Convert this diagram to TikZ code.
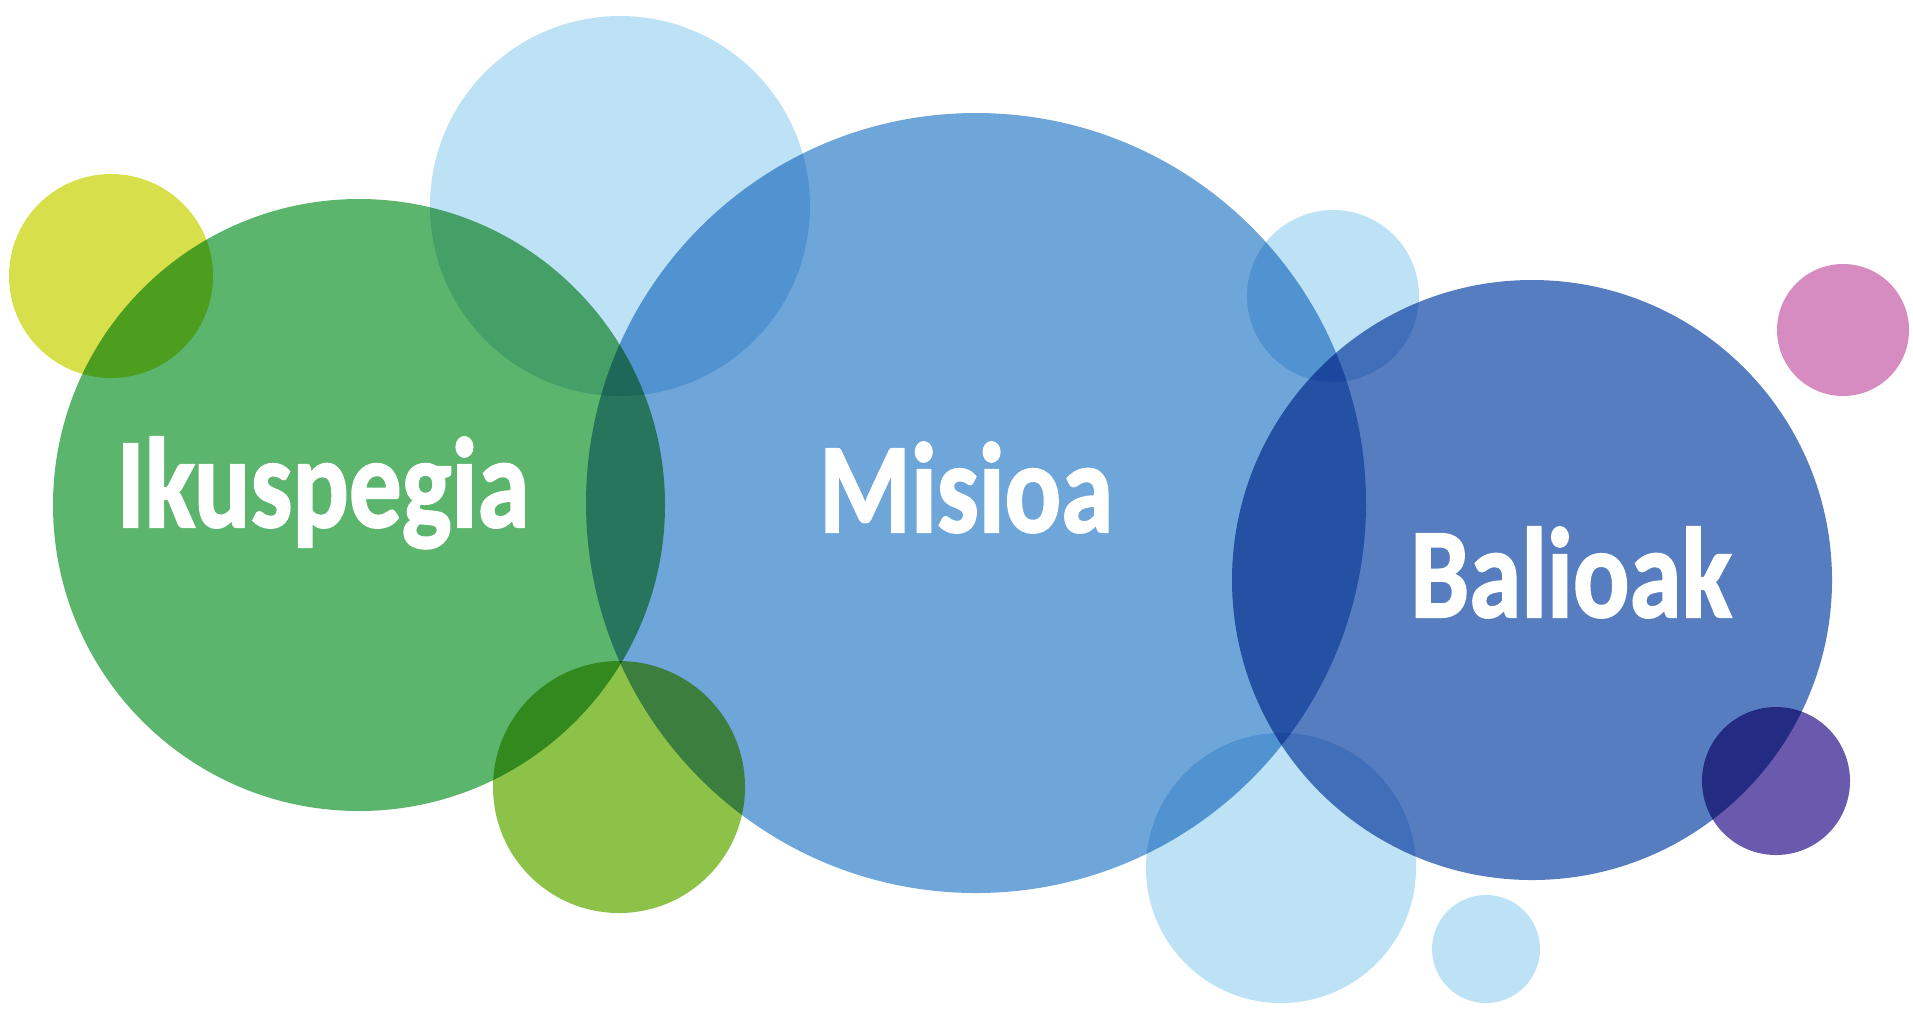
\documentclass[tikz,border=0pt]{standalone}
\usepackage{fontspec}
\newfontfamily\bubfont{Carlito Bold}[FakeBold=1.6]
\definecolor{bubyellow}{RGB}{215,224,74}
\definecolor{bubgreen}{RGB}{92,181,108}
\definecolor{bublime}{RGB}{140,194,72}
\definecolor{bubsky}{RGB}{190,226,245}
\definecolor{bubblue}{RGB}{110,166,218}
\definecolor{bubnavy}{RGB}{87,125,193}
\definecolor{bubpink}{RGB}{215,140,193}
\definecolor{bubpurple}{RGB}{105,90,173}
\begin{document}
\begin{tikzpicture}[x=.01cm, y=-.01cm,
	bubtext/.style={text=white, font=\bubfont\fontsize{29.9}{36}\selectfont, yscale=1.22, anchor=base, inner sep=0pt}]
	\useasboundingbox (0,0) rectangle (1913,1008);
	\begin{scope}[blend mode=multiply]
	\fill[bubyellow] (111,276)  circle (102);
	\fill[bubsky]    (620,206)  circle (190);
	\fill[bubgreen]  (359,505)  circle (306);
	\fill[bubblue]   (976,503)  circle (390);
	\fill[bublime]   (619,787)  circle (126);
	\fill[bubsky]    (1333,296) circle (86);
	\fill[bubnavy]   (1532,580) circle (300);
	\fill[bubpink]   (1843,330) circle (66);
	\fill[bubpurple] (1776,781) circle (74);
	\fill[bubsky]    (1281,868) circle (135);
	\fill[bubsky]    (1486,949) circle (54);
	\end{scope}
	\node[bubtext] (ikuspegia) at (323,527)  {Ikuspegia};
	\node[bubtext] (misioa)    at (966,532)  {Misioa};
	\node[bubtext] (balioak)   at (1571,617) {Balioak};
\end{tikzpicture}
\end{document}
